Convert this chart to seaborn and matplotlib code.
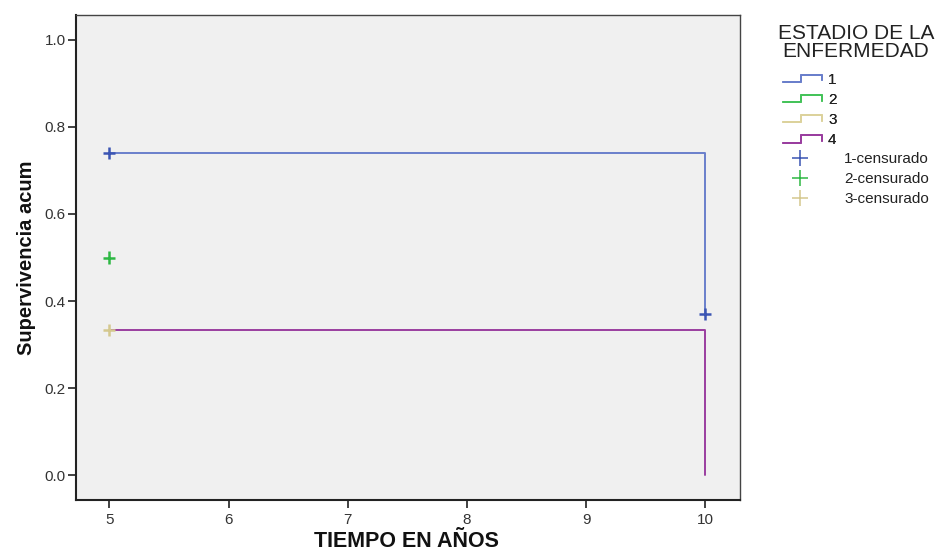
import matplotlib
matplotlib.use("Agg")
import matplotlib.pyplot as plt
import seaborn as sns
import pandas as pd
from matplotlib.legend_handler import HandlerBase
from matplotlib.lines import Line2D

# Data
stages = ["1", "4"]
line_times = {"1": [5, 10], "4": [5, 10]}
line_surv = {"1": [0.74, 0.37], "4": [0.333, 0.0]}
cens_stage = ["1", "2", "3", "1"]
cens_time = [5, 5, 5, 10]
cens_surv = [0.74, 0.50, 0.333, 0.37]
legend_title = "ESTADIO DE LA\nENFERMEDAD"
line_labels = ["1", "2", "3", "4"]
cens_labels = ["1-censurado", "2-censurado", "3-censurado"]
x_ticks = [5, 6, 7, 8, 9, 10]
y_ticks = [0.0, 0.2, 0.4, 0.6, 0.8, 1.0]

line_colors = {"1": "#6a7fcb", "2": "#45c35a", "3": "#dcd29c", "4": "#9a3e9f"}
cens_colors = {"1": "#3b55b3", "2": "#2db843", "3": "#d4c88e"}

sns.set_theme(style="white")
plt.rcParams['font.family'] = ['Liberation Sans', 'DejaVu Sans']

fig = plt.figure(figsize=(9.37, 5.52), dpi=100)
ax = fig.add_axes([76/937, 1-500/552, (740-76)/937, (500-15)/552])
ax.set_facecolor("#f0f0f0")

rows = []
for s in stages:
    for t, v in zip(line_times[s], line_surv[s]):
        rows.append({"stage": s, "t": t, "s": v})
df_lines = pd.DataFrame(rows)
sns.lineplot(data=df_lines, x="t", y="s", hue="stage", palette=line_colors,
             drawstyle="steps-post", estimator=None, legend=False, ax=ax, lw=1.4)

df_c = pd.DataFrame({"stage": cens_stage, "t": cens_time, "s": cens_surv})
sns.scatterplot(data=df_c, x="t", y="s", hue="stage", palette=cens_colors,
                marker="+", s=75, linewidth=1.8, legend=False, ax=ax, zorder=5)

ax.set_xlim(4.72, 10.29)
ax.set_ylim(-0.057, 1.057)
ax.set_xticks(x_ticks)
ax.set_xticklabels([str(v) for v in x_ticks])
ax.set_yticks(y_ticks)
ax.set_yticklabels([f"{v:.1f}" for v in y_ticks])
ax.tick_params(axis="both", direction="out", length=6, width=1.3, color="#333333",
               labelsize=11, labelcolor="#333333", left=True, bottom=True)
ax.tick_params(axis="y", pad=1.5)
ax.tick_params(axis="x", pad=3)
for side in ["left", "bottom"]:
    ax.spines[side].set_color("#222222")
    ax.spines[side].set_linewidth(1.5)
for side in ["top", "right"]:
    ax.spines[side].set_color("#444444")
    ax.spines[side].set_linewidth(1.0)
ax.set_xlabel("TIEMPO EN AÑOS", fontsize=15.5, fontweight="bold",
              color="#111111")
ax.xaxis.label.set_verticalalignment("baseline")
ax.xaxis.set_label_coords(0.497, (500 - 547) / 485)
ax.set_ylabel("Supervivencia acum", fontsize=14.5, fontweight="bold", labelpad=6,
              color="#111111")


class StepLine:
    def __init__(self, color):
        self.color = color


class HandlerStep(HandlerBase):
    def create_artists(self, legend, orig_handle, xdescent, ydescent, width,
                       height, fontsize, trans):
        w, h = width, height
        x0, y0 = -xdescent, -ydescent
        xs = [x0, x0 + 0.45 * w, x0 + 0.45 * w, x0 + w, x0 + w]
        ys = [y0 + 0.1 * h, y0 + 0.1 * h, y0 + 0.9 * h, y0 + 0.9 * h, y0 + 0.3 * h]
        ln = Line2D(xs, ys, color=orig_handle.color, lw=1.4, transform=trans)
        return [ln]


fig.text(856/937, 1-24/552, legend_title, ha="center", va="top", fontsize=15,
         color="#222222", linespacing=0.95)

fs = 11
handles1 = [StepLine(line_colors[k]) for k in line_labels]
leg1 = fig.legend(handles1, line_labels, handler_map={StepLine: HandlerStep()},
                  loc="upper left", bbox_to_anchor=(783/937, 1-73/552),
                  frameon=False, fontsize=fs, handlelength=2.55,
                  handleheight=0.55, handletextpad=0.4, labelspacing=0.4,
                  borderpad=0.0, borderaxespad=0)
for t in leg1.get_texts():
    t.set_color("#222222")

handles2 = [Line2D([], [], ls="none", marker="+", markersize=11, mew=1.1,
                   color=cens_colors[k]) for k in ["1", "2", "3"]]
leg2 = fig.legend(handles2, cens_labels, loc="upper left",
                  bbox_to_anchor=(783/937, 1-152/552), frameon=False,
                  fontsize=fs, handlelength=2.2, handletextpad=1.8,
                  labelspacing=0.4, borderpad=0.0, borderaxespad=0)
for t in leg2.get_texts():
    t.set_color("#222222")
fig.add_artist(leg1)

fig.savefig("out.png", dpi=100)
